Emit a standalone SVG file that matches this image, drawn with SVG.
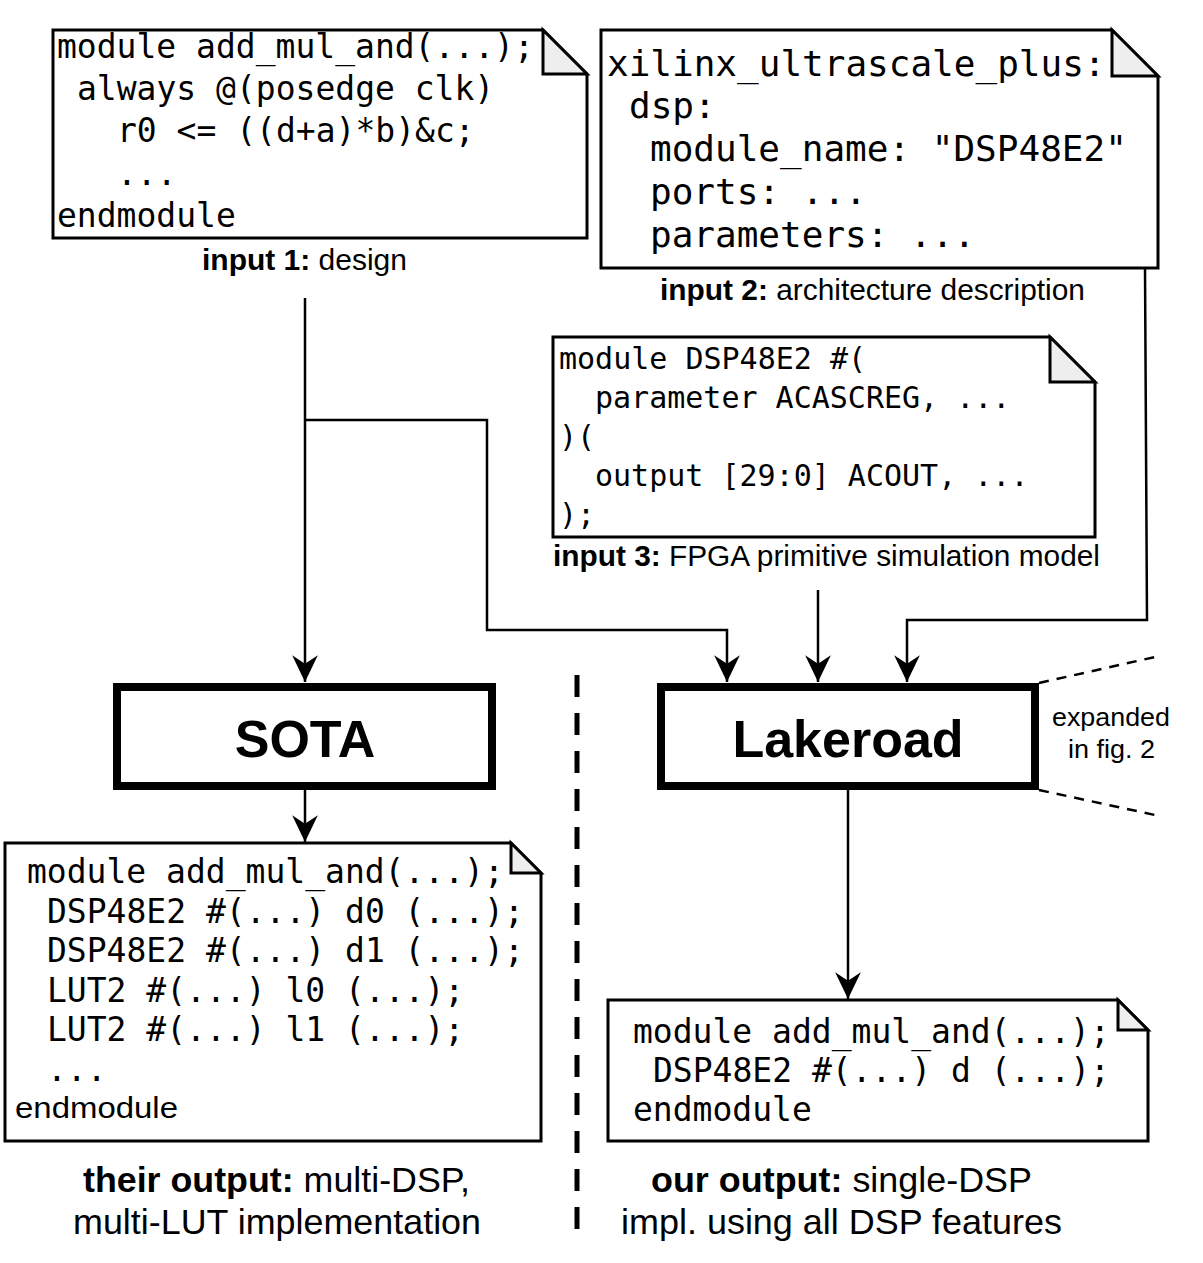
<svg xmlns="http://www.w3.org/2000/svg" width="1203" height="1263" viewBox="0 0 1203 1263">
<style>
.note{fill:#fff;stroke:#000;stroke-width:3;stroke-linejoin:miter}
.fold{fill:#eeeeee;stroke:#000;stroke-width:3}
.code{font-family:"DejaVu Sans Mono","Liberation Mono",monospace;fill:#000}
.sans{font-family:"Liberation Sans",Arial,sans-serif;fill:#000}
.b{font-weight:bold}
.box{fill:#fff;stroke:#000;stroke-width:8}
.conn{fill:none;stroke:#000;stroke-width:2.5}
.dash{fill:none;stroke:#000;stroke-width:2.5;stroke-dasharray:10 8}
</style>
<defs>
<marker id="arr" markerUnits="userSpaceOnUse" markerWidth="30" markerHeight="30" viewBox="-26 -14 28 28" refX="0" refY="0" orient="auto">
<path d="M0,0 L-25,-12 L-17,0 L-25,12 Z" fill="#000"/>
</marker>
</defs>
<rect width="1203" height="1263" fill="#fff"/>

<g id="connectors">
<path class="conn" d="M305,298 L305,682" marker-end="url(#arr)"/>
<path class="conn" d="M305,420 L487,420 L487,630 L727,630 L727,682" marker-end="url(#arr)"/>
<path class="conn" d="M818,590 L818,682" marker-end="url(#arr)"/>
<path class="conn" d="M1145,268 L1147,620 L907,620 L907,682" marker-end="url(#arr)"/>
<path class="conn" d="M305,790 L305,842" marker-end="url(#arr)"/>
<path class="conn" d="M848,790 L848,999" marker-end="url(#arr)"/>
<path class="dash" d="M1039,683 L1155,657"/>
<path class="dash" d="M1039,790 L1155,815"/>
<path d="M577,675 L577,1230" fill="none" stroke="#000" stroke-width="5" stroke-dasharray="22 16"/>
</g>

<g id="input1">
<path class="note" d="M53,30 L543,30 L587,74 L587,238 L53,238 Z"/>
<path class="fold" d="M543,30 L543,74 L587,74 Z"/>
<text class="code" font-size="33" x="57" y="58">module add_mul_and(...);</text>
<text class="code" font-size="33" x="77" y="100">always @(posedge clk)</text>
<text class="code" font-size="33" x="117" y="142">r0 &lt;= ((d+a)*b)&amp;c;</text>
<text class="code" font-size="33" x="117" y="185">...</text>
<text class="code" font-size="33" x="57" y="227">endmodule</text>
<text class="sans" font-size="30" x="202" y="270" textLength="205" lengthAdjust="spacingAndGlyphs"><tspan class="b">input 1:</tspan> design</text>
</g>

<g id="input2">
<path class="note" d="M601,30 L1112,30 L1158,76 L1158,268 L601,268 Z"/>
<path class="fold" d="M1112,30 L1112,76 L1158,76 Z"/>
<text class="code" font-size="36" x="607" y="76">xilinx_ultrascale_plus:</text>
<text class="code" font-size="36" x="629" y="118">dsp:</text>
<text class="code" font-size="36" x="650" y="161">module_name: "DSP48E2"</text>
<text class="code" font-size="36" x="650" y="204">ports: ...</text>
<text class="code" font-size="36" x="650" y="247">parameters: ...</text>
<text class="sans" font-size="30" x="660" y="300" textLength="425" lengthAdjust="spacingAndGlyphs"><tspan class="b">input 2:</tspan> architecture description</text>
</g>

<g id="input3">
<path class="note" d="M553,337 L1050,337 L1095,382 L1095,537 L553,537 Z"/>
<path class="fold" d="M1050,337 L1050,382 L1095,382 Z"/>
<text class="code" font-size="30" x="559" y="369">module DSP48E2 #(</text>
<text class="code" font-size="30" x="595" y="408">parameter ACASCREG, ...</text>
<text class="code" font-size="30" x="559" y="447">)(</text>
<text class="code" font-size="30" x="595" y="486">output [29:0] ACOUT, ...</text>
<text class="code" font-size="30" x="559" y="525">);</text>
<text class="sans" font-size="30" x="553" y="566" textLength="547" lengthAdjust="spacingAndGlyphs"><tspan class="b">input 3:</tspan> FPGA primitive simulation model</text>
</g>

<g id="sota">
<rect class="box" x="117" y="687" width="375" height="99"/>
<text class="sans b" font-size="52" x="305" y="757" text-anchor="middle">SOTA</text>
</g>

<g id="lakeroad">
<rect class="box" x="661" y="687" width="374" height="99"/>
<text class="sans b" font-size="52" x="848" y="757" text-anchor="middle">Lakeroad</text>
<text class="sans" font-size="26" x="1052" y="726" textLength="118" lengthAdjust="spacingAndGlyphs">expanded</text>
<text class="sans" font-size="26" x="1068" y="758" textLength="87" lengthAdjust="spacingAndGlyphs">in fig. 2</text>
</g>

<g id="sota-output">
<path class="note" d="M5,843 L511,843 L541,873 L541,1141 L5,1141 Z"/>
<path class="fold" d="M511,843 L511,873 L541,873 Z"/>
<text class="code" font-size="33" x="27" y="883">module add_mul_and(...);</text>
<text class="code" font-size="33" x="47" y="923">DSP48E2 #(...) d0 (...);</text>
<text class="code" font-size="33" x="47" y="962">DSP48E2 #(...) d1 (...);</text>
<text class="code" font-size="33" x="47" y="1002">LUT2 #(...) l0 (...);</text>
<text class="code" font-size="33" x="47" y="1041">LUT2 #(...) l1 (...);</text>
<text class="code" font-size="33" x="47" y="1081">...</text>
<text class="sans" font-size="29" x="15" y="1118" textLength="163" lengthAdjust="spacingAndGlyphs">endmodule</text>
<text class="sans" font-size="35" x="83" y="1192" textLength="387" lengthAdjust="spacingAndGlyphs"><tspan class="b">their output:</tspan> multi-DSP,</text>
<text class="sans" font-size="35" x="73" y="1234" textLength="408" lengthAdjust="spacingAndGlyphs">multi-LUT implementation</text>
</g>

<g id="lakeroad-output">
<path class="note" d="M608,1000 L1118,1000 L1148,1030 L1148,1141 L608,1141 Z"/>
<path class="fold" d="M1118,1000 L1118,1030 L1148,1030 Z"/>
<text class="code" font-size="33" x="633" y="1043">module add_mul_and(...);</text>
<text class="code" font-size="33" x="653" y="1082">DSP48E2 #(...) d (...);</text>
<text class="code" font-size="33" x="633" y="1121">endmodule</text>
<text class="sans" font-size="35" x="651" y="1192" textLength="381" lengthAdjust="spacingAndGlyphs"><tspan class="b">our output:</tspan> single-DSP</text>
<text class="sans" font-size="35" x="621" y="1234" textLength="441" lengthAdjust="spacingAndGlyphs">impl. using all DSP features</text>
</g>
</svg>
